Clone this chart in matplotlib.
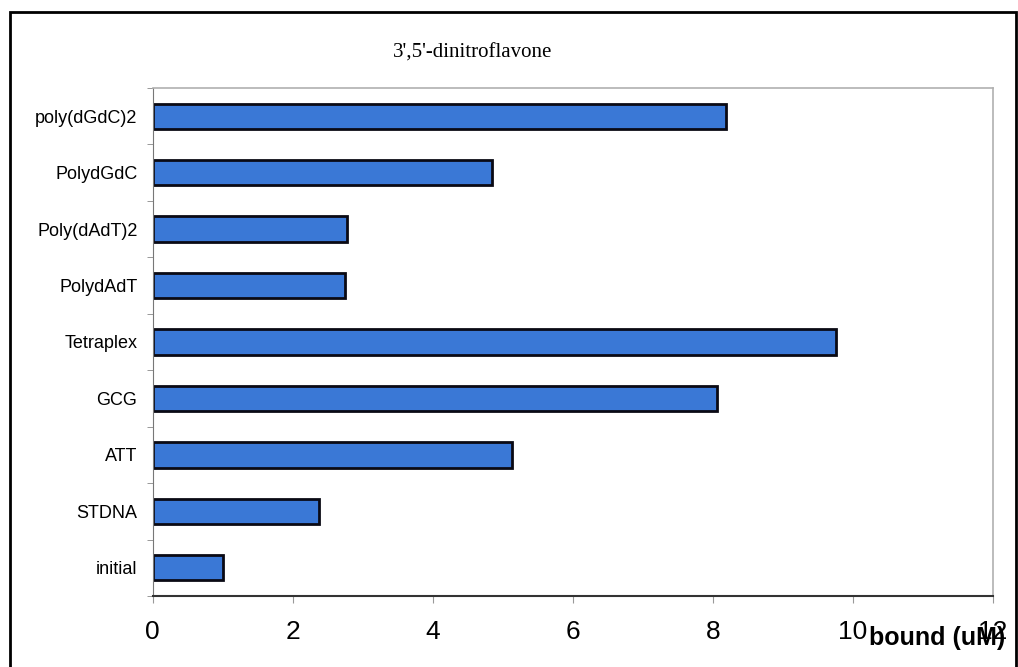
import matplotlib
matplotlib.use("Agg")
import matplotlib.pyplot as plt
from matplotlib.patches import Rectangle
from matplotlib import font_manager

categories = ["initial", "STDNA", "ATT", "GCG", "Tetraplex", "PolydAdT",
              "Poly(dAdT)2", "PolydGdC", "poly(dGdC)2"]
values = [1.01, 2.37, 5.13, 8.06, 9.76, 2.75, 2.78, 4.85, 8.19]
xticks = [0, 2, 4, 6, 8, 10, 12]
title = "3',5'-dinitroflavone"
xlabel = "bound (uM)"

names = {f.name for f in font_manager.fontManager.ttflist}
if "Liberation Sans Narrow" in names:
    label_family, label_size = "Liberation Sans Narrow", 22
else:
    label_family, label_size = "Liberation Sans", 18

W, H = 1018, 667
fig = plt.figure(figsize=(W / 100, H / 100), dpi=100)
fig.patch.set_facecolor("white")

# outer frame
fig.patches.append(Rectangle((10 / W, -0.05), (W - 12) / W, 1.05 - 12 / H,
                             transform=fig.transFigure, fill=False,
                             edgecolor="black", linewidth=2))

ax = fig.add_axes([152.7 / W, 1 - 596 / H, (992.7 - 152.7) / W, (596 - 88) / H])
ypos = list(range(len(categories)))
ax.barh(ypos, values, height=0.45, color="#3a78d6", edgecolor="#0a0a14",
        linewidth=2)
ax.set_xlim(0, 12)
ax.set_ylim(-0.5, len(categories) - 0.5)
ax.set_xticks(xticks)
ax.set_xticklabels([str(t) for t in xticks], fontsize=19, family="Liberation Sans")
ax.set_yticks(ypos)
ax.set_yticklabels(categories, fontsize=13, family="Liberation Sans")
ax.tick_params(axis="y", length=0, pad=11)
ax.set_yticks([i - 0.5 for i in range(len(categories) + 1)], minor=True)
ax.tick_params(axis="y", which="minor", length=4, color="#888888", direction="out")
ax.tick_params(axis="x", length=5, color="#999999", pad=12)

for s in ["top", "right"]:
    ax.spines[s].set_color("#b0b0b0")
    ax.spines[s].set_linewidth(1.2)
ax.spines["left"].set_color("#777777")
ax.spines["bottom"].set_color("#333333")
ax.spines["bottom"].set_linewidth(1.5)

fig.text(473 / W, 1 - 53 / H, title, ha="center", va="center",
         fontsize=15, family="Liberation Serif")
fig.text(937 / W, 1 - 638 / H, xlabel, ha="center", va="center",
         fontsize=label_size, fontweight="bold", family=label_family)

fig.savefig("out.png", dpi=100)
